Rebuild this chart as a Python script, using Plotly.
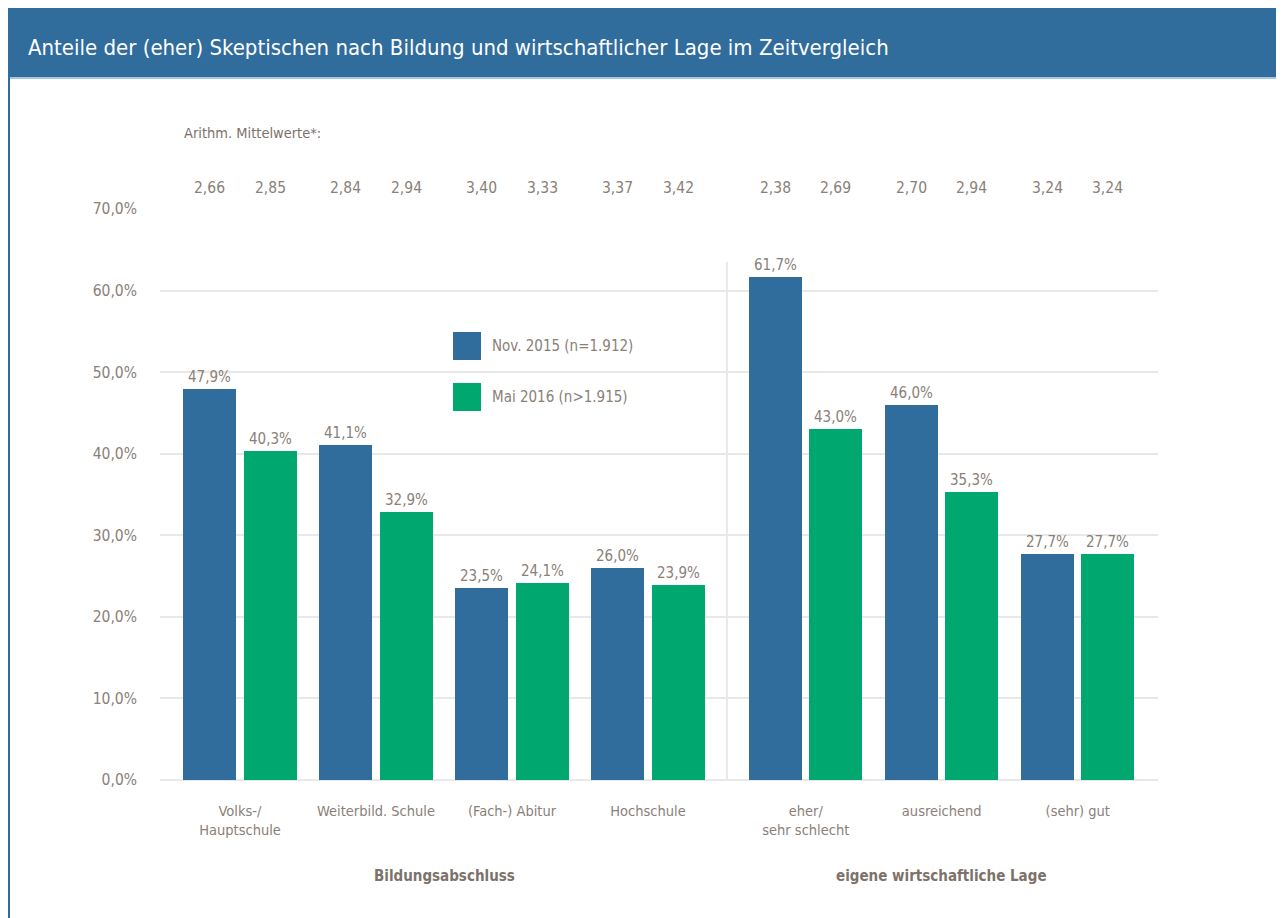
import plotly.graph_objects as go

categories = ["Volks-/<br>Hauptschule", "Weiterbild. Schule", "(Fach-) Abitur", "Hochschule",
              "eher/<br>sehr schlecht", "ausreichend", "(sehr) gut"]
nov_2015 = [47.9, 41.1, 23.5, 26.0, 61.7, 46.0, 27.7]
mai_2016 = [40.3, 32.9, 24.1, 23.9, 43.0, 35.3, 27.7]
mean_nov_2015 = ["2,66", "2,84", "3,40", "3,37", "2,38", "2,70", "3,24"]
mean_mai_2016 = ["2,85", "2,94", "3,33", "3,42", "2,69", "2,94", "3,24"]
series_names = ["Nov. 2015 (n=1.912)", "Mai 2016 (n>1.915)"]
group_titles = ["Bildungsabschluss", "eigene wirtschaftliche Lage"]
group_sizes = [4, 3]

BLUE = "#306c9c"
GREEN = "#00a870"
TXT = "#8a8078"
GRID = "#e8e8e8"
FONT = "DejaVu Sans Condensed, sans-serif"

# page offset of the plot div (body margin)
OFFS = 8
W, H = 1284 - OFFS, 918 - OFFS
# plot area in screen pixels
L, R, T, B = 160, 1158, 209, 780

GAP = 0.16
xpos = []
for g, n in enumerate(group_sizes):
    start = len(xpos)
    for i in range(n):
        xpos.append(start + i + g * GAP)
OFF = 0.222
BW = 0.39

def px(xp):
    return (xp - L) / (R - L)

def py(yp):
    return (B - yp) / (B - T)

fig = go.Figure()
for vals, name, col, sign in [(nov_2015, series_names[0], BLUE, -1), (mai_2016, series_names[1], GREEN, 1)]:
    fig.add_trace(go.Bar(
        x=[p + sign * OFF for p in xpos], y=vals, name=name, width=BW,
        marker=dict(color=col, line=dict(width=0)),
        texttemplate="%{y:.1f}%", textposition="outside", cliponaxis=False,
        textfont=dict(color=TXT, size=15, family=FONT), showlegend=False,
    ))

annotations = []
for means, sign in [(mean_nov_2015, -1), (mean_mai_2016, 1)]:
    for p, m in zip(xpos, means):
        annotations.append(dict(x=p + sign * OFF, xref="x", y=py(188), yref="paper",
                                xanchor="center", yanchor="middle",
                                text=m, showarrow=False, font=dict(color=TXT, size=15.5, family=FONT)))
annotations.append(dict(x=px(182), y=py(133), xref="paper", yref="paper", xanchor="left", yanchor="middle",
                        text="Arithm. Mittelwerte*:", showarrow=False,
                        font=dict(color="#7d726a", size=14.5, family=FONT)))
start = 0
for title, n in zip(group_titles, group_sizes):
    cx = (xpos[start] + xpos[start + n - 1]) / 2
    annotations.append(dict(x=cx, xref="x", y=py(876), yref="paper", xanchor="center", yanchor="middle",
                            text="<b>" + title + "</b>",
                            showarrow=False, font=dict(color="#7d726a", size=15, family=FONT)))
    start += n
annotations.append(dict(x=px(26), y=py(48), xref="paper", yref="paper", xanchor="left", yanchor="middle",
                        text="Anteile der (eher) Skeptischen nach Bildung und wirtschaftlicher Lage im Zeitvergleich",
                        showarrow=False, font=dict(color="white", size=22, family=FONT)))
shapes = []
for i, (name, col) in enumerate(zip(series_names, [BLUE, GREEN])):
    yc = 346 + i * 51
    shapes.append(dict(type="rect", xref="paper", yref="paper", x0=px(453), x1=px(481),
                       y0=py(yc + 14), y1=py(yc - 14), fillcolor=col, line=dict(width=0)))
    annotations.append(dict(x=px(490), y=py(yc), xref="paper", yref="paper", xanchor="left", yanchor="middle",
                            text=name, showarrow=False, font=dict(color=TXT, size=15, family=FONT)))

shapes.append(dict(type="rect", xref="paper", yref="paper", x0=px(9), x1=px(1300), y0=py(78), y1=py(7),
                   fillcolor=BLUE, line=dict(width=0), layer="below"))
shapes.append(dict(type="line", xref="paper", yref="paper", x0=px(10), x1=px(1300), y0=py(78), y1=py(78),
                   line=dict(color="#a9c6de", width=2)))
shapes.append(dict(type="line", xref="paper", yref="paper", x0=px(9), x1=px(9), y0=py(7), y1=py(930),
                   line=dict(color=BLUE, width=2)))
sep = (xpos[group_sizes[0] - 1] + xpos[group_sizes[0]]) / 2
shapes.append(dict(type="line", xref="x", yref="paper", x0=sep, x1=sep, y0=0, y1=py(262),
                   line=dict(color=GRID, width=2), layer="below"))

fig.update_layout(
    width=W, height=H,
    margin=dict(l=L - OFFS, r=W - (R - OFFS), t=T - OFFS, b=H - (B - OFFS), pad=0),
    paper_bgcolor="white", plot_bgcolor="white", separators=",.",
    font=dict(family=FONT, color=TXT, size=15),
    bargap=0, annotations=annotations, shapes=shapes,
    xaxis=dict(range=[(L - 240) / 136, (R - 240) / 136], tickvals=xpos, ticktext=categories,
               showgrid=False, zeroline=False, showline=False, ticks="outside", ticklen=18,
               tickcolor="rgba(0,0,0,0)", tickfont=dict(size=14.5, color=TXT, family=FONT)),
    yaxis=dict(range=[0, 70], dtick=10, tickformat=".1f", ticksuffix="%", showgrid=True,
               gridcolor=GRID, gridwidth=2, zeroline=True, zerolinecolor=GRID, zerolinewidth=2,
               showline=False, ticklabelstandoff=22, tickfont=dict(size=15.5, color=TXT, family=FONT)),
)
fig.write_html("out.html")
